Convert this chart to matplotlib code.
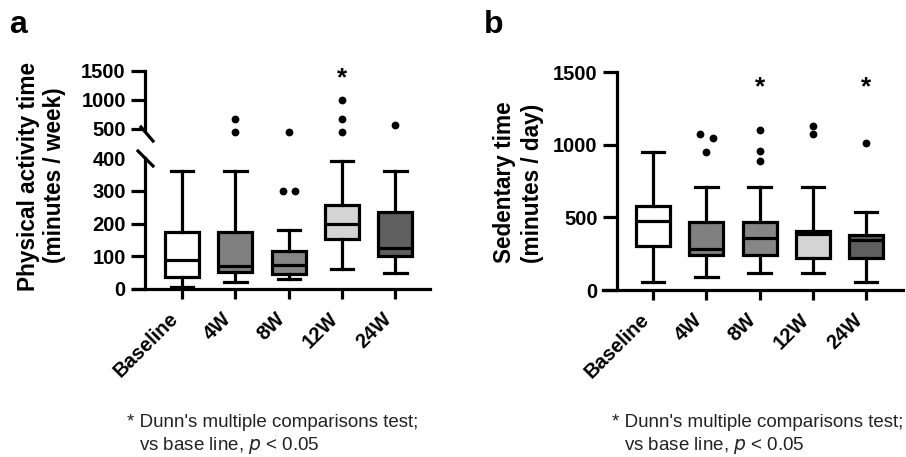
import matplotlib
matplotlib.use("Agg")
import matplotlib.pyplot as plt
from matplotlib.lines import Line2D

plt.rcParams['font.family'] = ['Liberation Sans', 'DejaVu Sans']

categories = ["Baseline", "4W", "8W", "12W", "24W"]
colors = ["#ffffff", "#808080", "#868686", "#d4d4d4", "#5f5f5f"]

# Panel a: physical activity time (minutes / week)
pa_whislo = [5, 20, 30, 60, 50]
pa_q1 = [37, 52, 46, 152, 100]
pa_med = [90, 70, 72, 200, 125]
pa_q3 = [175, 175, 117, 255, 235]
pa_whishi = [360, 360, 180, 390, 360]
pa_out = [[], [440, 670], [300, 300, 440], [450, 670, 1000], [570]]
pa_out_dx = [[], [0, 0], [-0.11, 0.11, 0], [0, 0, 0], [0]]
pa_star = [False, False, False, True, False]

# Panel b: sedentary time (minutes / day)
sb_whislo = [55, 89, 117, 117, 55]
sb_q1 = [303, 241, 241, 220, 220]
sb_med = [475, 282, 358, 385, 344]
sb_q3 = [578, 468, 468, 406, 378]
sb_whishi = [950, 709, 709, 709, 537]
sb_out = [[], [1074, 1046, 950], [1101, 956, 888], [1130, 1074], [1012]]
sb_out_dx = [[], [-0.12, 0.12, 0], [0, 0, 0], [0, 0, 0], [0]]
sb_star = [False, False, True, False, True]

W, H = 906, 457
fig = plt.figure(figsize=(W / 100, H / 100), dpi=100)

def fx(px):
    return px / W

def fy(py):
    return 1 - py / H

LW = 2.3
TFS = 14.5
LFS = 16.3
tickfont = dict(fontsize=TFS, fontweight='bold')

def stats(whislo, q1, med, q3, whishi):
    return [dict(whislo=a, q1=b, med=c, q3=d, whishi=e, fliers=[])
            for a, b, c, d, e in zip(whislo, q1, med, q3, whishi)]

def draw_boxes(ax, st):
    bp = ax.bxp(st, positions=range(len(st)), widths=0.64, patch_artist=True,
                showfliers=False, capwidths=0.42,
                boxprops=dict(linewidth=LW, edgecolor='black'),
                whiskerprops=dict(linewidth=LW, color='black'),
                capprops=dict(linewidth=LW, color='black'),
                medianprops=dict(linewidth=LW, color='black', solid_capstyle='butt'))
    for patch, c in zip(bp['boxes'], colors):
        patch.set_facecolor(c)
        patch.set_joinstyle('miter')
    return bp

def draw_out(ax, outs, dxs, keep):
    for i, (vals, dx) in enumerate(zip(outs, dxs)):
        for v, d in zip(vals, dx):
            if keep(v):
                ax.plot(i + d, v, 'o', color='black', markersize=4.6, clip_on=False, zorder=5)

def style_axis(ax):
    for s in ['top', 'right']:
        ax.spines[s].set_visible(False)
    for s in ['left', 'bottom']:
        ax.spines[s].set_linewidth(LW)
    ax.tick_params(axis='y', length=10, width=LW, pad=4)
    ax.tick_params(axis='x', length=7.5, width=LW, pad=7)

# ---------- Panel a ----------
axl = fig.add_axes([fx(133), fy(289), fx(430) - fx(133), fy(158) - fy(289)])
axu = fig.add_axes([fx(133), fy(133.6), fx(430) - fx(133), fy(71) - fy(133.6)], sharex=axl)

st_a = stats(pa_whislo, pa_q1, pa_med, pa_q3, pa_whishi)
draw_boxes(axl, st_a)
draw_out(axl, pa_out, pa_out_dx, lambda v: v < 400)
draw_out(axu, pa_out, pa_out_dx, lambda v: v >= 400)

axl.set_xlim(-0.92, 4.65)
axl.set_ylim(0, 400)
axu.set_ylim(420, 1500)
for ax in (axl, axu):
    ax.spines['left'].set_position(('data', -0.69))
    style_axis(ax)
axl.set_yticks([0, 100, 200, 300, 400])
axl.spines['left'].set_bounds(0, 400)
axl.yaxis.get_major_ticks()[-1].tick1line.set_visible(False)
axu.set_yticks([500, 1000, 1500])
axu.spines['left'].set_bounds(480, 1500)
axu.spines['bottom'].set_visible(False)
axu.tick_params(axis='x', bottom=False, labelbottom=False)
for lab in axl.get_yticklabels() + axu.get_yticklabels():
    lab.set_fontsize(TFS)
    lab.set_fontweight('bold')
axl.set_xticks(range(len(categories)))
axl.set_xticklabels(categories, rotation=45, ha='right', **tickfont)
axl.set_facecolor('none')
axu.set_facecolor('none')

for i, s in enumerate(pa_star):
    if s:
        axu.text(i, 1250, '*', ha='center', va='baseline', fontsize=19, fontweight='bold')

# break marks
fig.add_artist(Line2D([fx(141), fx(153)], [fy(127), fy(141)], color='black', lw=LW))
fig.add_artist(Line2D([fx(138), fx(153)], [fy(151), fy(166)], color='black', lw=LW))

fig.text(fx(29), fy(177), 'Physical activity time', rotation=90, ha='center', va='center',
         fontsize=LFS, fontweight='bold')
fig.text(fx(55), fy(175), '(minutes / week)', rotation=90, ha='center', va='center',
         fontsize=LFS, fontweight='bold')
fig.text(fx(9), fy(33), 'a', fontsize=23, fontweight='bold', ha='left', va='baseline')

fig.text(fx(127), fy(427), "* Dunn's multiple comparisons test;", fontsize=13.5, color='#222222',
         ha='left', va='baseline')
fig.text(fx(139), fy(450), "vs base line, $\\it{p}$ < 0.05", fontsize=13.5, color='#222222',
         ha='left', va='baseline')

# ---------- Panel b ----------
axb = fig.add_axes([fx(603), fy(290), fx(903) - fx(603), fy(72) - fy(290)])
st_b = stats(sb_whislo, sb_q1, sb_med, sb_q3, sb_whishi)
draw_boxes(axb, st_b)
draw_out(axb, sb_out, sb_out_dx, lambda v: True)
axb.set_xlim(-0.94, 4.69)
axb.set_ylim(0, 1500)
axb.spines['left'].set_position(('data', -0.676))
style_axis(axb)
axb.set_yticks([0, 500, 1000, 1500])
for lab in axb.get_yticklabels():
    lab.set_fontsize(TFS)
    lab.set_fontweight('bold')
axb.set_xticks(range(len(categories)))
axb.set_xticklabels(categories, rotation=45, ha='right', **tickfont)
axb.set_facecolor('none')
for i, s in enumerate(sb_star):
    if s:
        axb.text(i, 1345, '*', ha='center', va='baseline', fontsize=19, fontweight='bold')

fig.text(fx(504), fy(182), 'Sedentary time', rotation=90, ha='center', va='center',
         fontsize=LFS, fontweight='bold')
fig.text(fx(533), fy(183), '(minutes / day)', rotation=90, ha='center', va='center',
         fontsize=LFS, fontweight='bold')
fig.text(fx(484), fy(33), 'b', fontsize=23, fontweight='bold', ha='left', va='baseline')

fig.text(fx(612), fy(427), "* Dunn's multiple comparisons test;", fontsize=13.5, color='#222222',
         ha='left', va='baseline')
fig.text(fx(624), fy(450), "vs base line, $\\it{p}$ < 0.05", fontsize=13.5, color='#222222',
         ha='left', va='baseline')

fig.savefig('out.png', dpi=100)
